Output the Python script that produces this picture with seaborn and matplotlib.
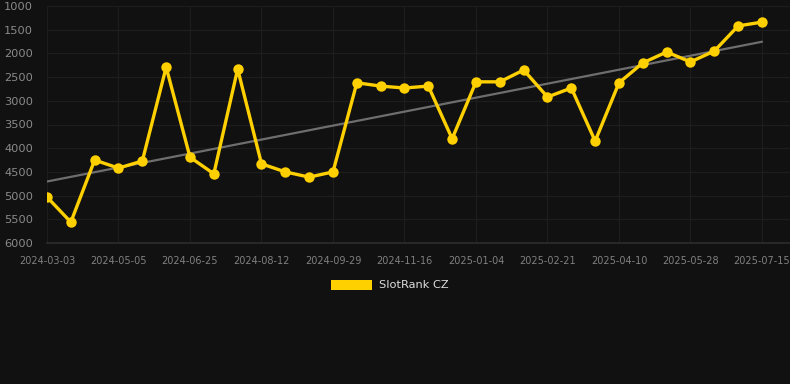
import numpy as np
import pandas as pd
import matplotlib
matplotlib.use("Agg")
import matplotlib.pyplot as plt
import seaborn as sns
from matplotlib.patches import Patch

dates = ["2024-03-03", "2024-03-24", "2024-04-14", "2024-05-05", "2024-05-22", "2024-06-08",
         "2024-06-25", "2024-07-11", "2024-07-27", "2024-08-12", "2024-08-28", "2024-09-13",
         "2024-09-29", "2024-10-15", "2024-10-31", "2024-11-16", "2024-12-02", "2024-12-18",
         "2025-01-04", "2025-01-20", "2025-02-05", "2025-02-21", "2025-03-09", "2025-03-25",
         "2025-04-10", "2025-04-26", "2025-05-12", "2025-05-28", "2025-06-13", "2025-06-29",
         "2025-07-15"]
ranks = [5030, 5560, 4250, 4420, 4270, 2290, 4190, 4540, 2330, 4330, 4500, 4610,
         4500, 2620, 2690, 2730, 2690, 3800, 2600, 2600, 2350, 2920, 2730, 3850,
         2620, 2200, 1970, 2180, 1950, 1420, 1340]
y_ticks = [1000, 1500, 2000, 2500, 3000, 3500, 4000, 4500, 5000, 5500, 6000]
series_name = "SlotRank CZ"

df = pd.DataFrame({"i": np.arange(len(dates)), "date": dates, "rank": ranks})

sns.set_theme(style="dark")
plt.rcParams['font.family'] = ['DejaVu Sans']

bg = "#111111"
grid = "#1d1d1d"
fig = plt.figure(figsize=(7.9, 3.84), dpi=100, facecolor=bg)
ax = fig.add_axes([47/790, 1-243/384, 1-47/790, (243-6)/384])
ax.set_facecolor(bg)

# trend line (least squares fit)
coef = np.polyfit(df["i"], df["rank"], 1)
trend = np.polyval(coef, df["i"])
ax.plot(df["i"], trend, color="#6e6e6e", lw=1.6, zorder=2)

sns.lineplot(data=df, x="i", y="rank", ax=ax, color="#FFD000", lw=2.4,
             marker="o", markersize=7.5, markeredgewidth=0, zorder=3)

ax.set_ylim(6000, 1000)
ax.set_xlim(0, 30 + (790-762)/23.83)
ax.set_yticks(y_ticks)
ax.set_yticklabels([str(v) for v in y_ticks])
ax.set_xticks(df["i"][::3])
ax.set_xticklabels(df["date"][::3])
ax.set_xlabel("")
ax.set_ylabel("")
ax.grid(True, color=grid, lw=0.9)
ax.tick_params(axis="y", colors=grid, length=7, width=0.9, labelcolor="#8a8a8a",
               labelsize=8.2, pad=3)
ax.tick_params(axis="x", colors=grid, length=7, width=0.9, labelcolor="#808080",
               labelsize=7.0, pad=2)
for s in ax.spines.values():
    s.set_visible(False)
ax.spines["bottom"].set_visible(True)
ax.spines["bottom"].set_color("#2c2c2c")

handle = Patch(facecolor="#FFD000", edgecolor="none")
leg = fig.legend([handle], [series_name], loc="center", bbox_to_anchor=(390/790, 1-285/384),
                 frameon=False, handlelength=3.6, handleheight=1.0, fontsize=8.2,
                 labelcolor="#dddddd", handletextpad=0.6)

fig.savefig("out.png", dpi=100, facecolor=bg)
